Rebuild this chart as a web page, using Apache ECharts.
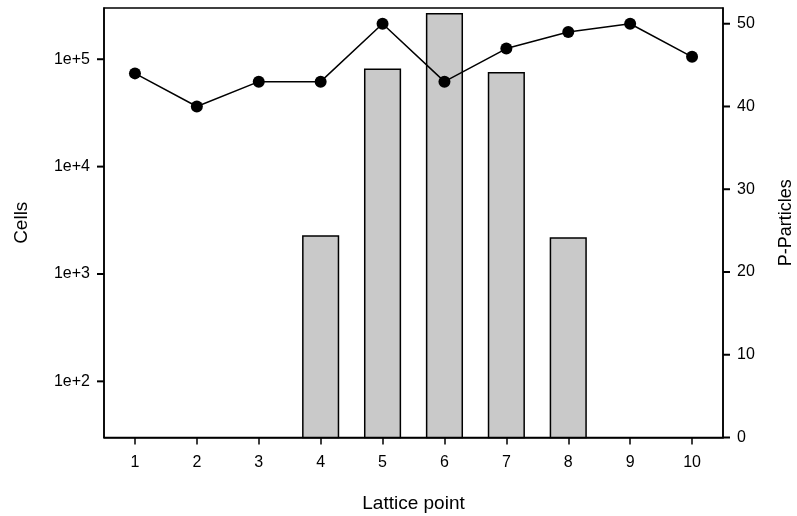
<!DOCTYPE html>
<html>
<head>
<meta charset="utf-8">
<script src="https://cdn.jsdelivr.net/npm/echarts@6/dist/echarts.min.js"></script>
<style>
html,body{margin:0;padding:0;background:#fff;}
#c{width:797px;height:516px;}
</style>
</head>
<body>
<div id="c"></div>
<script>
const categories = ['1','2','3','4','5','6','7','8','9','10'];
const cells = [null, null, null, 2300, 82000, 270000, 76000, 2200, null, null];
const particles = [44, 40, 43, 43, 50, 43, 47, 49, 50, 46];
const cellTicks = [100, 1000, 10000, 100000];
const particleTicks = [0, 10, 20, 30, 40, 50];

const FONT = 'Liberation Sans, Arial, sans-serif';
const TL = 7;

function tickRenderer(side) {
  return function (params, api) {
    const cs = params.coordSys;
    const y = api.coord([categories[0], api.value(0)])[1];
    const x0 = side === 'left' ? cs.x - TL : cs.x + cs.width;
    return {
      type: 'line',
      shape: {x1: x0, y1: y, x2: x0 + TL, y2: y},
      style: {stroke: '#000', lineWidth: 2}
    };
  };
}

const chart = echarts.init(document.getElementById('c'), null, {renderer: 'canvas'});
chart.setOption({
  animation: false,
  backgroundColor: '#fff',
  grid: {left: 104, right: 74, top: 8, bottom: 78.5, show: true, borderColor: '#000', borderWidth: 1.5,
    containLabel: false, outerBoundsMode: 'none'},
  xAxis: {
    type: 'category',
    data: categories,
    name: 'Lattice point',
    nameLocation: 'middle',
    nameGap: 57,
    nameTextStyle: {fontFamily: FONT, fontSize: 19, color: '#000'},
    axisLine: {show: true, lineStyle: {color: '#000', width: 1.5}},
    axisTick: {show: true, inside: false, alignWithLabel: true, length: 7, lineStyle: {color: '#000', width: 1.5}},
    axisLabel: {fontFamily: FONT, fontSize: 16, color: '#000', margin: 17},
    splitLine: {show: false}
  },
  yAxis: [{
    type: 'log',
    logBase: 10,
    min: 30,
    max: 300000,
    name: 'Cells',
    nameLocation: 'middle',
    nameGap: 73,
    nameRotate: 90,
    nameTextStyle: {fontFamily: FONT, fontSize: 19, color: '#000'},
    axisLine: {show: true, lineStyle: {color: '#000', width: 1.5}},
    axisTick: {show: false},
    axisLabel: {fontFamily: FONT, fontSize: 16, color: '#000', margin: 14, customValues: cellTicks,
      formatter: v => Number(v).toExponential(0)},
    splitLine: {show: false},
    minorTick: {show: false}
  }, {
    type: 'value',
    position: 'right',
    min: 0,
    max: 51.9,
    interval: 10,
    name: 'P-Particles',
    nameLocation: 'middle',
    nameGap: 54,
    nameRotate: 90,
    nameTextStyle: {fontFamily: FONT, fontSize: 18, color: '#000'},
    axisLine: {show: true, lineStyle: {color: '#000', width: 1.5}},
    axisTick: {show: false},
    axisLabel: {fontFamily: FONT, fontSize: 16, color: '#000', margin: 14, customValues: particleTicks},
    splitLine: {show: false}
  }],
  series: [{
    type: 'bar',
    yAxisIndex: 0,
    data: cells,
    barWidth: '60%',
    clip: true,
    itemStyle: {color: '#c9c9c9', borderColor: '#000', borderWidth: 1.5},
    z: 2
  }, {
    type: 'line',
    yAxisIndex: 1,
    data: particles,
    symbol: 'circle',
    symbolSize: 12,
    lineStyle: {color: '#000', width: 1.5},
    itemStyle: {color: '#000'},
    z: 5
  }, {
    type: 'custom',
    yAxisIndex: 0,
    data: cellTicks.map(v => [v]),
    encode: {y: 0},
    clip: false,
    silent: true,
    z: 10,
    renderItem: tickRenderer('left')
  }, {
    type: 'custom',
    yAxisIndex: 1,
    data: particleTicks.map(v => [v]),
    encode: {y: 0},
    clip: false,
    silent: true,
    z: 10,
    renderItem: tickRenderer('right')
  }]
});
</script>
</body>
</html>
